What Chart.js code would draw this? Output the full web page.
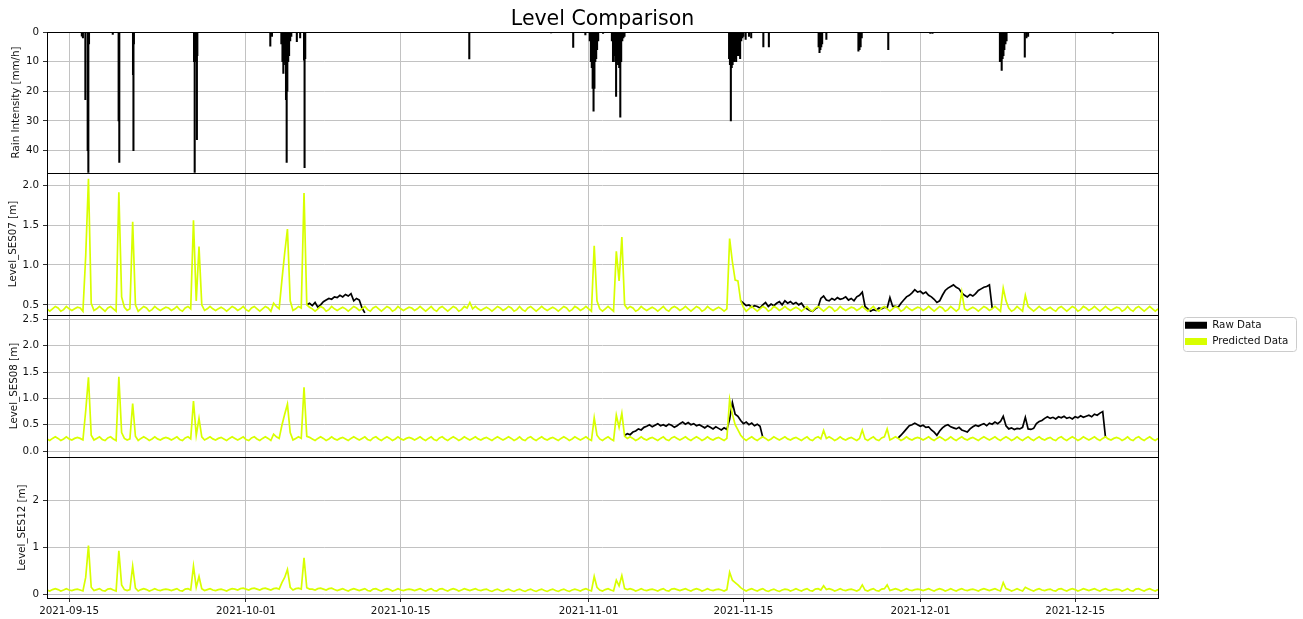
<!DOCTYPE html>
<html>
<head>
<meta charset="utf-8">
<title>Level Comparison</title>
<script src="https://cdn.jsdelivr.net/npm/chart.js@4.4.0/dist/chart.umd.min.js"></script>
<style>
  html, body { margin: 0; padding: 0; background: #fff; }
  body { width: 1303px; height: 619px; position: relative; overflow: hidden; }
  .panel { position: absolute; left: 0; }
</style>
</head>
<body>
<canvas class="panel" id="rainChart" width="1303" height="183" style="top:0"></canvas>
<canvas class="panel" id="ses07Chart" width="1303" height="162" style="top:163px"></canvas>
<canvas class="panel" id="ses08Chart" width="1303" height="162" style="top:305px"></canvas>
<canvas class="panel" id="ses12Chart" width="1303" height="172" style="top:447px"></canvas>
<script>
// x values are days since 2021-09-13 00:00, level series sampled every 6 h
const STEP = 0.25;
const X_MAX = 100.5;
const xTickDays = [2, 18, 32, 49, 63, 79, 93];
const xTickLabels = ['2021-09-15', '2021-10-01', '2021-10-15', '2021-11-01', '2021-11-15', '2021-12-01', '2021-12-15'];

// rain intensity events [mm/h]
const rainDays = [
  3.15, 3.25, 3.47, 3.68, 3.74, 3.8, 5.95, 6.48, 6.54, 7.78, 7.82, 7.86,
  13.3, 13.36, 13.42, 13.5, 13.56, 13.6, 20.2, 20.35,
  21.2, 21.3, 21.38, 21.46, 21.54, 21.62, 21.68, 21.74, 21.82, 21.9, 22.0, 22.1,
  22.6, 22.9, 23.25, 23.3, 23.36, 38.2, 45.6, 47.6, 48.7,
  49.1, 49.2, 49.28, 49.36, 49.44, 49.52, 49.6, 49.68, 49.76, 49.86, 50.3,
  51.1, 51.2, 51.3, 51.4, 51.48, 51.56, 51.66, 51.76, 51.86, 51.94, 52.04, 52.14, 52.24,
  61.7, 61.78, 61.86, 61.94, 62.02, 62.1, 62.18, 62.26, 62.34, 62.42, 62.5, 62.6, 62.7, 62.8, 62.9, 63.0,
  63.2, 63.5, 63.7, 64.8, 65.3,
  69.8, 69.88, 69.96, 70.04, 70.12, 70.5, 73.4, 73.5, 73.6, 73.7, 76.1, 79.9, 80.1,
  86.2, 86.28, 86.36, 86.44, 86.52, 86.6, 86.7, 86.8, 88.45, 88.6, 88.75, 96.4
];
const rainMm = [
  1.4, 2.0, 22.8, 40, 60, 4, 0.8, 30, 44, 14.4, 40, 4,
  10, 60, 10, 10, 36.3, 8, 4.8, 1.5,
  4, 10, 14, 10, 11, 22.8, 44, 20, 10, 8, 3, 1.5,
  3.3, 2, 9.5, 45.8, 9, 9.1, 0.3, 5.2, 1,
  3, 10, 12, 19, 26.7, 19, 10, 9, 6, 3, 0.5,
  3, 10, 8, 10, 21.7, 10, 11, 12, 28.7, 10, 3, 2, 1.5,
  9, 11, 30, 12, 11, 10, 10, 9, 10, 8, 7, 8, 9, 3, 2, 1.5,
  2.5, 1.5, 2, 5, 5,
  5, 7, 6, 5, 4, 2.5, 6.5, 6, 5, 2, 6, 0.5, 0.5,
  10, 10, 13, 9, 8, 6, 4, 3, 8.5, 2, 1.5, 0.5
];

// predicted levels [m], 4 values per day, 5 days per line
const ses07Pred = [
  .45,.42,.45,.48, .46,.42,.44,.48, .45,.43,.45,.47, .46,.42,1.11,2.08, .52,.43,.45,.48,
  .45,.42,.46,.48, .45,.42,1.91,.60, .47,.43,.45,1.54, .50,.42,.45,.48, .46,.42,.44,.48,
  .45,.43,.45,.47, .46,.43,.45,.48, .44,.42,.46,.48, .45,1.56,.55,1.23, .50,.43,.45,.48,
  .45,.43,.45,.47, .45,.42,.45,.48, .46,.43,.45,.48, .44,.42,.46,.48, .45,.42,.45,.48,
  .46,.42,.52,.48, .45,.81,1.15,1.45, .55,.43,.45,.48, .46,1.90,.50,.47, .45,.42,.45,.48,
  .46,.42,.44,.48, .45,.43,.45,.47, .45,.42,.45,.48, .46,.43,.45,.48, .44,.42,.46,.48,
  .45,.42,.45,.48, .46,.42,.44,.48, .45,.43,.45,.47, .46,.43,.45,.48, .45,.42,.45,.48,
  .44,.42,.46,.48, .45,.42,.45,.48, .46,.42,.44,.48, .46,.53,.45,.48, .45,.43,.45,.47,
  .45,.42,.45,.48, .46,.43,.45,.48, .46,.42,.44,.48, .44,.42,.46,.48, .45,.42,.45,.48,
  .45,.43,.45,.47, .45,.42,.45,.48, .46,.42,.44,.48, .46,.43,.45,.48, .45,.42,1.24,.55,
  .45,.42,.45,.48, .45,.42,1.17,.80, 1.35,.50,.45,.48, .46,.42,.44,.48, .45,.43,.45,.47,
  .45,.42,.45,.48, .44,.42,.46,.48, .46,.43,.45,.48, .45,.42,.45,.48, .46,.42,.44,.48,
  .45,.43,.45,.47, .45,.42,.45,1.33, 1.04,.81,.80,.55, .47,.42,.45,.48, .45,.42,.45,.48,
  .46,.42,.44,.48, .46,.43,.45,.48, .45,.43,.45,.47, .45,.42,.45,.48, .44,.42,.46,.48,
  .45,.42,.45,.48, .46,.42,.44,.48, .45,.43,.45,.47, .46,.43,.45,.48, .45,.42,.45,.48,
  .44,.42,.46,.48, .45,.42,.45,.48, .46,.42,.44,.48, .45,.43,.45,.47, .46,.43,.45,.48,
  .45,.42,.45,.48, .46,.42,.44,.48, .45,.42,.45,.66, .45,.43,.45,.47, .45,.42,.45,.48,
  .46,.43,.45,.48, .45,.42,.71,.55, .46,.42,.44,.48, .45,.42,.62,.48, .45,.42,.45,.48,
  .45,.43,.45,.47, .44,.42,.46,.48, .45,.42,.45,.48, .46,.42,.44,.48, .46,.43,.45,.48,
  .45,.42,.45,.48, .45,.43,.45,.47, .46,.42,.44,.48, .44,.42,.46,.48, .45,.42,.45,.48,
  .45,.42,.45
];
const ses08Pred = [
  .23,.20,.24,.27, .24,.20,.23,.27, .23,.21,.24,.26, .24,.21,.76,1.40, .30,.21,.24,.27,
  .22,.20,.25,.27, .23,.20,1.41,.35, .24,.21,.23,.90, .28,.20,.24,.27, .24,.20,.23,.27,
  .23,.21,.24,.26, .24,.21,.24,.27, .22,.20,.25,.27, .23,.95,.30,.62, .27,.21,.24,.27,
  .23,.21,.24,.26, .23,.20,.24,.27, .24,.21,.24,.27, .22,.20,.25,.27, .23,.20,.24,.27,
  .24,.20,.32,.27, .24,.49,.70,.89, .35,.21,.24,.27, .24,1.21,.28,.26, .23,.20,.24,.27,
  .24,.20,.23,.27, .23,.21,.24,.26, .23,.20,.24,.27, .24,.21,.24,.27, .22,.20,.25,.27,
  .23,.20,.24,.27, .24,.20,.23,.27, .23,.21,.24,.26, .24,.21,.24,.27, .23,.20,.24,.27,
  .22,.20,.25,.27, .23,.20,.24,.27, .24,.20,.23,.27, .24,.21,.24,.27, .23,.21,.24,.26,
  .23,.20,.24,.27, .24,.21,.24,.27, .24,.20,.23,.27, .22,.20,.25,.27, .23,.20,.24,.27,
  .23,.21,.24,.26, .23,.20,.24,.27, .24,.20,.23,.27, .24,.21,.24,.27, .23,.20,.63,.30,
  .23,.20,.24,.27, .23,.20,.68,.45, .72,.28,.24,.27, .24,.20,.23,.27, .23,.21,.24,.26,
  .23,.20,.24,.27, .22,.20,.25,.27, .24,.21,.24,.27, .23,.20,.24,.27, .24,.20,.23,.27,
  .23,.21,.24,.26, .23,.20,.24,.98, .70,.50,.40,.30, .24,.20,.24,.27, .23,.20,.24,.27,
  .24,.20,.23,.27, .24,.21,.24,.27, .23,.21,.24,.26, .23,.20,.24,.27, .22,.20,.25,.27,
  .23,.39,.24,.27, .24,.20,.23,.27, .23,.21,.24,.26, .23,.20,.24,.40, .23,.20,.24,.27,
  .22,.20,.25,.27, .42,.21,.24,.27, .24,.20,.23,.27, .23,.21,.24,.26, .24,.21,.24,.27,
  .23,.20,.24,.27, .24,.20,.23,.27, .23,.20,.24,.27, .23,.21,.24,.26, .23,.20,.24,.27,
  .24,.21,.24,.27, .23,.20,.24,.27, .24,.20,.23,.27, .23,.20,.24,.27, .23,.20,.24,.27,
  .23,.21,.24,.26, .22,.20,.25,.27, .23,.20,.24,.27, .24,.20,.23,.27, .24,.21,.24,.27,
  .23,.20,.24,.27, .23,.21,.24,.26, .24,.20,.23,.27, .22,.20,.25,.27, .23,.20,.24,.27,
  .23,.20,.24
];
const ses12Pred = [
  .09,.07,.10,.12, .10,.07,.09,.12, .09,.08,.10,.11, .09,.07,.36,1.04, .15,.08,.10,.12,
  .08,.07,.11,.12, .09,.07,.93,.20, .10,.08,.10,.60, .13,.07,.10,.12, .10,.07,.09,.12,
  .09,.08,.10,.11, .10,.08,.10,.12, .08,.07,.11,.12, .09,.60,.15,.38, .12,.08,.10,.12,
  .09,.08,.10,.11, .09,.07,.10,.12, .11,.09,.12,.13, .11,.09,.12,.13, .11,.09,.12,.13,
  .11,.09,.12,.13, .11,.25,.36,.53, .15,.09,.12,.13, .11,.78,.14,.11, .11,.09,.12,.13,
  .11,.09,.12,.13, .10,.08,.10,.12, .09,.07,.10,.12, .10,.08,.10,.12, .08,.07,.11,.12,
  .09,.07,.10,.12, .10,.07,.09,.12, .09,.08,.10,.11, .10,.08,.10,.12, .09,.07,.10,.12,
  .08,.07,.11,.12, .09,.07,.10,.12, .10,.07,.09,.12, .10,.08,.10,.12, .09,.08,.10,.11,
  .08,.06,.09,.11, .08,.06,.09,.11, .08,.06,.09,.11, .08,.06,.09,.11, .08,.06,.09,.11,
  .08,.06,.09,.11, .08,.06,.09,.11, .08,.06,.09,.11, .09,.07,.10,.12, .09,.07,.38,.15,
  .09,.07,.10,.12, .09,.07,.30,.18, .40,.12,.10,.12, .10,.07,.09,.12, .09,.08,.10,.11,
  .09,.07,.10,.12, .08,.07,.11,.12, .10,.08,.10,.12, .09,.07,.10,.12, .10,.07,.09,.12,
  .09,.08,.10,.11, .09,.07,.10,.47, .30,.25,.20,.14, .10,.07,.10,.12, .09,.07,.10,.12,
  .08,.06,.09,.11, .08,.06,.09,.11, .10,.07,.09,.12, .09,.07,.10,.12, .08,.07,.11,.12,
  .09,.18,.10,.12, .10,.07,.09,.12, .09,.08,.10,.11, .09,.07,.10,.20, .09,.07,.10,.12,
  .08,.07,.11,.12, .20,.08,.10,.12, .10,.07,.09,.12, .09,.08,.10,.11, .10,.08,.10,.12,
  .09,.07,.10,.12, .10,.07,.09,.12, .09,.07,.10,.12, .09,.08,.10,.11, .09,.07,.10,.12,
  .10,.08,.10,.12, .09,.07,.25,.12, .10,.07,.09,.12, .09,.07,.15,.12, .09,.07,.10,.12,
  .09,.08,.10,.11, .08,.07,.11,.12, .09,.07,.10,.12, .10,.07,.09,.12, .10,.08,.10,.12,
  .09,.07,.10,.12, .09,.08,.10,.11, .10,.07,.09,.12, .08,.07,.11,.12, .09,.07,.10,.12,
  .09,.07,.10
];

// raw levels [m], only the stretches where they leave the prediction
// (elsewhere the raw line lies under the predicted one)
const ses07RawStart = [23.5, 62.75];
const ses07Raw = [
  [.50,.52,.49,.53,.47,.50,.54,.56,.58,.57,.60,.59,.62,.60,.63,.61,.64,.55,.58,.56,.46,.40],
  [.55,
   .52,.49,.50,.47, .49,.48,.46,.50, .53,.48,.51,.49, .52,.54,.50,.55, .52,.54,.51,.53,
   .50,.52,.47,.45, .43,.42,.45,.47, .58,.61,.56,.55, .58,.56,.59,.57, .58,.60,.56,.58,
   .55,.60,.62,.66, .48,.45,.42,.44, .43,.46,.45,.47, .46,.59,.48,.48, .47,.52,.56,.60,
   .62,.65,.69,.66, .67,.64,.66,.62, .60,.57,.53,.55, .62,.68,.71,.73, .75,.72,.70,.65,
   .62,.60,.63,.61, .64,.68,.70,.72, .73,.75,.46]
];
const ses08RawStart = [52.25, 77.0];
const ses08Raw = [
  [.30,.33,.31,
   .36,.38,.42,.40, .45,.47,.50,.46, .49,.52,.48,.50, .47,.51,.49,.45, .48,.52,.55,.51,
   .54,.50,.52,.48, .50,.47,.44,.48, .45,.42,.46,.43, .40,.44,.41,.60, .92,.70,.66,.58,
   .52,.55,.50,.53, .48,.51,.47,.26],
  [.25,.30,.36,.42, .48,.50,.53,.50, .47,.49,.45,.46, .40,.36,.30,.38, .44,.48,.50,.46,
   .44,.42,.45,.40, .38,.36,.42,.46, .49,.47,.50,.52, .48,.53,.51,.55, .52,.56,.66,.48,
   .42,.44,.41,.43, .42,.45,.64,.42, .41,.43,.52,.56, .58,.62,.65,.62, .64,.61,.65,.63,
   .66,.62,.64,.61, .65,.63,.67,.64, .66,.68,.65,.70, .68,.72,.75,.26]
];

// y axis ranges and ticks
const rainRange = [0, 47.5];
const rainTicks = [0, 10, 20, 30, 40];
const rainTickLabels = ['0', '10', '20', '30', '40'];
const ses07Range = [0.375, 2.15];
const ses07Ticks = [0.5, 1.0, 1.5, 2.0];
const ses07TickLabels = ['0.5', '1.0', '1.5', '2.0'];
const ses08Range = [-0.11, 2.58];
const ses08Ticks = [0, 0.5, 1.0, 1.5, 2.0, 2.5];
const ses08TickLabels = ['0.0', '0.5', '1.0', '1.5', '2.0', '2.5'];
const ses12Range = [-0.08, 2.93];
const ses12Ticks = [0, 1, 2];
const ses12TickLabels = ['0', '1', '2'];

const RAW_COLOR = '#000000';
const PRED_COLOR = '#d8ff00';
const GRID = '#c2c2c2';
const FS = 10.3;

Chart.defaults.font.family = "'DejaVu Sans', sans-serif";
Chart.defaults.font.size = FS;
Chart.defaults.color = '#111';
Chart.defaults.animation = false;

function levelPoints(values) {
  return values.map((v, i) => ({ x: i * STEP, y: v }));
}

function rawPoints(starts, segs) {
  const pts = [];
  segs.forEach((seg, k) => {
    if (k > 0) pts.push({ x: starts[k] - STEP / 2, y: null });
    seg.forEach((v, i) => pts.push({ x: starts[k] + i * STEP, y: v }));
  });
  return pts;
}

// black box round the plot area, like the axes spines
const framePlugin = {
  id: 'frame',
  afterDraw(chart) {
    const { ctx, chartArea: a } = chart;
    ctx.save();
    ctx.strokeStyle = '#000';
    ctx.lineWidth = 1;
    ctx.strokeRect(Math.round(a.left) + 0.5, Math.round(a.top) + 0.5,
                   Math.round(a.width), Math.round(a.height));
    ctx.restore();
  }
};

// moves the legend out to the right of the panels and draws its frame
const legendPlacer = {
  id: 'legendPlacer',
  afterLayout(chart) {
    const lg = chart.legend;
    if (!lg || !chart.options.plugins.legend.display) return;
    const w = lg.width, h = lg.height;
    lg.left = 1179; lg.top = 9;
    lg.right = lg.left + w; lg.bottom = lg.top + h;
  },
  beforeDraw(chart) {
    if (!chart.options.plugins.legend.display) return;
    const ctx = chart.ctx;
    ctx.save();
    ctx.beginPath();
    ctx.roundRect(1183.5, 12.5, 113, 34, 3);
    ctx.fillStyle = 'rgba(255,255,255,0.8)';
    ctx.fill();
    ctx.strokeStyle = '#cccccc';
    ctx.lineWidth = 1;
    ctx.stroke();
    ctx.restore();
  }
};

function xScale(showLabels) {
  return {
    type: 'linear',
    min: 0,
    max: X_MAX,
    offset: false,
    afterBuildTicks: s => { s.ticks = xTickDays.map(v => ({ value: v })); },
    afterFit: s => { s.height = showLabels ? 21 : 10; },
    grid: { color: GRID, lineWidth: 1, offset: false, drawTicks: showLabels, tickLength: 4, tickColor: '#333' },
    border: { display: false },
    ticks: {
      display: showLabels, maxRotation: 0, autoSkip: false, padding: 3, color: '#111',
      callback: (v, i) => xTickLabels[i]
    }
  };
}

function yScale(title, range, ticks, labels, titlePad, reverse) {
  return {
    type: 'linear',
    min: range[0],
    max: range[1],
    reverse: !!reverse,
    afterBuildTicks: s => { s.ticks = ticks.map(v => ({ value: v })); },
    afterFit: s => { s.width = 47; },
    grid: { color: GRID, lineWidth: 1, tickLength: 4, tickColor: '#333' },
    border: { display: false },
    ticks: { padding: 4, color: '#111', callback: (v, i) => labels[i] },
    title: { display: true, text: title, color: '#111', padding: { top: titlePad, bottom: 0 } }
  };
}

function levelChart(id, title, pred, raw, range, ticks, labels, titlePad, opts) {
  const datasets = [];
  datasets.push({
    label: 'Raw Data',
    data: raw,
    borderColor: RAW_COLOR,
    backgroundColor: RAW_COLOR,
    borderWidth: 1.7,
    pointRadius: 0,
    spanGaps: false,
    order: 1
  });
  datasets.push({
    label: 'Predicted Data',
    data: levelPoints(pred),
    borderColor: PRED_COLOR,
    backgroundColor: PRED_COLOR,
    borderWidth: 1.7,
    pointRadius: 0,
    order: 0
  });
  return new Chart(document.getElementById(id), {
    type: 'line',
    data: { datasets },
    options: {
      responsive: false,
      layout: { padding: { top: 10, right: 145, bottom: 0, left: 0 } },
      plugins: {
        legend: {
          display: !!opts.legend,
          position: 'chartArea',
          align: 'start',
          labels: {
            boxWidth: 22, boxHeight: 7, padding: 6, color: '#111',
            sort: (a, b) => a.datasetIndex - b.datasetIndex,
            generateLabels: ch => Chart.defaults.plugins.legend.labels.generateLabels(ch)
              .map(l => Object.assign(l, { lineWidth: 0 }))
          }
        },
        tooltip: { enabled: false }
      },
      scales: {
        x: xScale(!!opts.xLabels),
        y: yScale(title, range, ticks, labels, titlePad, false)
      }
    },
    plugins: [framePlugin, legendPlacer]
  });
}

// rain panel
new Chart(document.getElementById('rainChart'), {
  type: 'bar',
  data: {
    datasets: [{
      label: 'Rain',
      data: rainDays.map((d, i) => ({ x: d, y: rainMm[i] })),
      backgroundColor: '#000',
      borderWidth: 0,
      barThickness: 1.4
    }]
  },
  options: {
    responsive: false,
    layout: { padding: { top: 0, right: 145, bottom: 0, left: 0 } },
    plugins: {
      legend: { display: false },
      tooltip: { enabled: false },
      title: {
        display: true,
        text: 'Level Comparison',
        fullSize: false,
        color: '#000',
        font: { size: 20.5, weight: 'normal' },
        padding: { top: 7, bottom: 0.4 }
      }
    },
    scales: {
      x: xScale(false),
      y: yScale('Rain Intensity [mm/h]', rainRange, rainTicks, rainTickLabels, 10, true)
    }
  },
  plugins: [framePlugin]
});

levelChart('ses07Chart', 'Level_SES07 [m]', ses07Pred, rawPoints(ses07RawStart, ses07Raw),
  ses07Range, ses07Ticks, ses07TickLabels, 7, {});
levelChart('ses08Chart', 'Level_SES08 [m]', ses08Pred, rawPoints(ses08RawStart, ses08Raw),
  ses08Range, ses08Ticks, ses08TickLabels, 8, { legend: true });
levelChart('ses12Chart', 'Level_SES12 [m]', ses12Pred, [],
  ses12Range, ses12Ticks, ses12TickLabels, 16, { xLabels: true });
</script>
</body>
</html>
